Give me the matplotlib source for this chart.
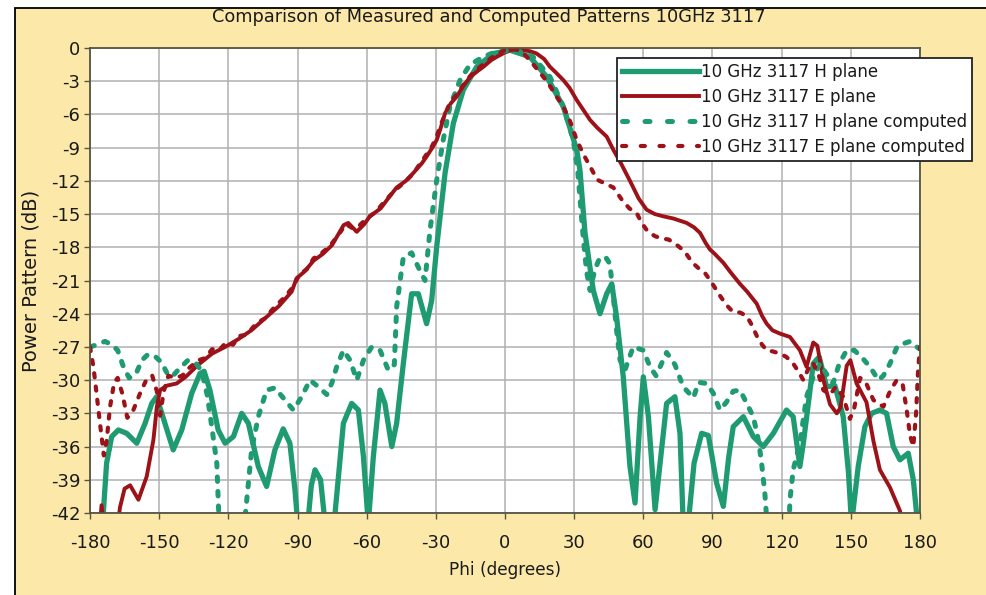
import matplotlib
matplotlib.use("Agg")
import matplotlib.pyplot as plt
from matplotlib.patches import Rectangle

plt.rcParams['font.family'] = ['DejaVu Sans']
plt.rcParams['axes.unicode_minus'] = False

# measured and computed patterns (phi in degrees, dB)
h_meas_phi = [-176, -174.2, -172.8, -170.6, -167.7, -164.1, -159.7, -156.1, -153.2, -151.1, -147.5, -143.9,
              -140.2, -135.9, -132.3, -130.5, -128, -124.4, -121.4, -117.8, -114.2, -111.3, -107, -103.4,
              -99.8, -96.2, -93.3, -91.1, -89.5, -86, -84, -82.4, -80, -77.5, -75, -73.7, -70.1, -66.5,
              -63.6, -61.4, -59.3, -57.1, -54.2, -52.1, -49.1, -47, -44.1, -40.5, -37.6, -34, -31.8, -29.6,
              -26, -22.4, -18.1, -12.3, -5, 2.2, 10.8, 18.1, 25.3, 31.1, 32.5, 34.7, 38.3, 41.2, 44.1,
              46.3, 48.4, 51.3, 54.2, 56.4, 58.6, 60, 62.2, 65.1, 67, 70.1, 73.7, 75.9, 77.3, 79, 82, 85.3,
              88.2, 91.8, 94.7, 97, 99, 103.4, 107.7, 112, 116.4, 122.1, 125, 127.9, 129.4, 132.3, 133.7,
              136.3, 139.5, 143.1, 146.7, 149, 150.3, 153.2, 156.1, 159, 162.6, 165.5, 168.4, 171.3, 174.9,
              177.1, 178.5, 180]
h_meas_db = [-44, -41.9, -37.5, -35.1, -34.5, -34.8, -35.7, -33.9, -32.1, -31.5, -33.9, -36.3,
             -34.5, -31.2, -29.4, -29.2, -30.9, -34.5, -35.7, -35.1, -33.0, -33.9, -37.8, -39.6,
             -36.3, -34.4, -35.7, -39.9, -44, -44, -39.5, -38.1, -39, -44, -44, -42, -33.9, -32.1,
             -32.7, -36.9, -43, -36.9, -30.9, -32.1, -36.0, -33.9, -28.5, -22.2, -22.2, -24.9, -22.8, -17.9,
             -11.3, -6.8, -3.8, -1.7, -0.5, -0.2, -0.8, -2.6, -5.3, -9.2, -11.0, -16.7, -21.9, -24.0, -22.2,
             -21.3, -24.3, -29.7, -37.8, -41.1, -33.3, -29.7, -33.3, -41.7, -38, -32.1, -31.5, -34.8, -43, -44, -37.5, -34.8,
             -35.0, -39.3, -41.4, -37, -34.2, -33.3, -35.1, -36.0, -34.8, -32.7, -33.3, -37.8, -35.7, -30.9, -28.5,
             -27.9, -30.6, -30.5, -33.3, -38.4, -43, -37.8, -34.2, -33.0, -32.7, -33.0, -36.0, -37.2, -36.6,
             -39, -42, -44]

e_meas_phi = [-176, -175, -173.5, -168.5, -167, -165, -162.6, -159, -155.4, -152.5, -151, -149.6, -146.7,
              -142.4, -138.5, -133, -127, -121.4, -115.7, -110, -104, -98, -92.5, -90.4, -87, -83, -79, -75,
              -70, -68, -64.3, -61, -58.6, -54, -50, -47, -43, -39.8, -36, -34, -31.5, -29.6, -28, -26, -23.5,
              -21, -18, -15, -12, -9.4, -6, -3.6, 0, 2.2, 5, 8, 11, 13.7, 17, 19.5, 22, 25.3, 28, 31.1, 34,
              36.9, 40, 44.1, 47, 50, 54.2, 58, 61.4, 65, 68.6, 73, 78.8, 82, 84.6, 87, 88.9, 91, 94.7, 98,
              101.9, 105, 109.2, 111.5, 113.5, 116, 119.3, 123.6, 127.9, 130.8, 132.5, 133.7, 135.5, 138.1,
              141, 143.9, 145.5, 148.2, 149.8, 152.5, 156.8, 159.8, 162.6, 167, 171.3, 173]
e_meas_db = [-44, -41.3, -44, -44, -41.5, -39.8, -39.5, -40.8, -38.7, -35.4, -32.4, -30.9, -30.5,
             -30.3, -29.7, -28.6, -27.6, -27.0, -26.3, -25.5, -24.4, -23.3, -22.0, -20.8, -20.2, -19.2, -18.6, -17.8,
             -16.0, -15.8, -16.6, -15.9, -15.2, -14.5, -13.4, -12.6, -12.0, -11.3, -10.4, -9.8, -9.0, -8.3, -7.3, -5.9, -5.0,
             -4.4, -3.4, -2.6, -2.1, -1.7, -1.1, -0.8, -0.4, -0.2, -0.1, -0.2, -0.3, -0.5, -1.0, -1.7, -2.2, -2.9, -3.6, -4.7, -5.6,
             -6.5, -7.2, -8.0, -9.2, -10.3, -12.0, -13.6, -14.6, -15.0, -15.2, -15.4, -15.8, -16.2, -16.7, -17.6, -18.2, -18.6, -19.4, -20.3,
             -21.3, -22.0, -23.1, -24.2, -24.9, -25.5, -25.8, -26.1, -27.3, -28.8, -27.5, -26.6, -26.9, -30.0,
             -32.2, -33.0, -32.5, -28.7, -28.2, -30.3, -32.0, -35.5, -38.1, -39.7, -41.8, -44]

h_comp_phi = [-180, -177, -173.5, -170.5, -168, -165.5, -163, -160, -157.5, -155, -152, -149, -146, -144,
              -141, -137.5, -134, -131.5, -129, -127, -125, -123.8, -113.5, -112, -109.9, -107, -103.4,
              -99.8, -95.4, -91.8, -88.2, -84.6, -81, -77.3, -75, -73, -70.1, -67.2, -64.3, -61.4, -57.8,
              -54.2, -50.6, -48, -47, -45.5, -44.1, -40.5, -37.6, -34.7, -32.5, -29.6, -26.8, -23.9, -19.5,
              -15.2, -9.4, -3.6, 5, 12.2, 19.5, 25.3, 29.6, 31.5, 32.5, 34, 35.4, 36.9, 39, 41.2, 44, 45.5,
              47, 48.4, 49.9, 52, 55.6, 60, 62.9, 65.5, 70.1, 73.7, 77.3, 81.7, 84, 87.5, 90.4, 93.2, 96, 99,
              101.9, 103.4, 107.7, 110, 111.3, 112.7, 114, 123, 123.6, 125, 127.9, 130.8, 133.7, 136.6, 139,
              142.3, 145, 148.2, 151.5, 155, 158.3, 162, 164.1, 167, 170, 172.8, 175.7, 178.6, 180]
h_comp_db = [-27.0, -26.8, -26.5, -26.8, -27.3, -28.8, -29.8, -29.4, -28.2, -27.7, -27.8, -28.4, -29.6, -29.6,
             -28.9, -28.2, -28.5, -29.2, -31.5, -34.5, -37.5, -44, -44, -40.8, -36.3, -33.3, -30.9,
             -30.7, -31.8, -32.7, -31.5, -30.0, -30.6, -31.3, -30.2, -28.8, -27.3, -28.2, -30.0, -28.2, -27.0,
             -27.3, -29.1, -28.6, -23.4, -21.0, -18.9, -18.5, -19.8, -21.0, -16.4, -11.9, -8.3, -5.3, -2.9,
             -1.5, -0.8, -0.3, -0.2, -0.8, -2.6, -5.3, -8.3, -11.0, -13.5, -17.3, -20.2, -21.9, -20.0, -18.9, -19.0, -19.5,
             -22.5, -25.5, -28.2, -29.1, -27.0, -27.3, -28.8, -29.6, -27.5, -28.6, -30.6, -31.6, -30.2, -30.3, -31.2, -32.7, -32.0, -31.0,
             -30.9, -31.5, -33.3, -35.5, -37.5, -40.2, -44, -44, -40.8, -38.1, -35.7, -31.5, -29.7, -28.5, -29.3,
             -30.3, -28.5, -27.3, -27.3, -28.0, -28.8, -30.0, -29.6, -28.5, -27.0, -26.7, -26.5, -27.0, -27.2]

e_comp_phi = [-180, -178.5, -177, -175.5, -174, -172.8, -171.3, -169.5, -168, -166, -163.8, -161.2, -158.3,
              -155.4, -153, -151, -149.6, -148, -146, -143, -140, -137, -133, -130, -127, -124, -121, -118,
              -115, -112, -108, -104, -100, -96, -92, -89, -86, -83, -80, -76, -72, -69, -66, -63, -60, -56,
              -52, -48, -44, -40, -36, -32, -30, -28, -26, -24, -21, -18, -15, -12, -9, -6, -3, 0, 3, 6, 8.5,
              10.8, 13.5, 16.6, 18.5, 22.4, 25.3, 28.2, 31.1, 34, 36.9, 40, 44, 47, 51, 54, 57.1, 59.3, 62,
              65.1, 68, 71, 75.2, 78, 81.3, 84, 87, 90, 93, 96, 98.7, 102, 104.8, 107, 109.2, 111.5, 113.5,
              116, 119.3, 122, 125, 127.5, 129.4, 131.5, 133.5, 136, 138.1, 141, 143.5, 146.7, 149.6, 151.5,
              154, 156.5, 159.8, 164.1, 167, 169.9, 172.5, 174.3, 175.7, 177.1, 178.3, 179.2, 180]
e_comp_db = [-27.0, -28.8, -31.5, -34.2, -36.8, -35.5, -32.4, -30.2, -29.8, -31.2, -33.4, -32.7, -31.2,
             -29.9, -29.6, -31.0, -33.2, -31.0, -29.6, -29.8, -29.6, -28.9, -28.2, -28.0, -27.2, -27.3, -26.6, -26.8,
             -26.0, -25.9, -24.9, -24.4, -23.4, -22.6, -21.6, -20.4, -20.0, -19.0, -18.6, -17.9, -16.8, -15.9, -16.3, -16.0, -15.4, -14.8,
             -13.8, -12.9, -12.2, -11.4, -10.2, -9.0, -8.2, -7.0, -6.0, -5.0, -4.2, -3.3, -2.5, -1.9, -1.4, -0.9, -0.5, -0.2, -0.1, -0.2, -0.6,
             -1.1, -1.8, -2.6, -3.1, -4.4, -5.3, -6.6, -8.3, -9.6, -10.7, -11.9, -12.3, -12.6, -13.8, -14.5, -14.9, -15.8, -16.6,
             -17.0, -17.2, -17.3, -17.9, -18.4, -19.4, -19.9, -20.4, -21.3, -22.3, -23.2, -23.8, -23.9, -24.2, -25.0, -26.0, -26.8, -27.3,
             -27.4, -27.6, -27.9, -28.5, -29.3, -30.0, -29.0, -28.4, -29.5, -30.9, -31.3, -30.6, -31.5, -33.5, -32.5,
             -29.8, -30.2, -31.8, -32.4, -31.0, -30.0, -30.4, -32.8, -35.0, -36.0, -33.0, -29.0, -27.0]

labels = ['10 GHz 3117 H plane', '10 GHz 3117 E plane',
          '10 GHz 3117 H plane computed', '10 GHz 3117 E plane computed']
x_ticks = list(range(-180, 181, 30))
y_ticks = list(range(-42, 1, 3))

green = '#1f9b72'
red = '#9c1218'
yellow = '#fce9aa'
ink = '#1a1a1a'

fig = plt.figure(figsize=(9.87, 5.95), dpi=100, facecolor='white')
panel = Rectangle((15 / 987, -0.02), 1.0, 1 - 8 / 595 + 0.02, transform=fig.transFigure,
                  facecolor=yellow, edgecolor='black', linewidth=1.3, zorder=-5)
fig.patches.append(panel)

ax = fig.add_axes([90 / 987, 82 / 595, 830 / 987, 465 / 595], zorder=2)
ax.set_facecolor('white')

ax.plot(h_meas_phi, h_meas_db, color=green, lw=3.8, label=labels[0], solid_joinstyle='round')
ax.plot(e_meas_phi, e_meas_db, color=red, lw=2.8, label=labels[1], solid_joinstyle='round')
lh, = ax.plot(h_comp_phi, h_comp_db, color=green, lw=3.6, label=labels[2], dash_capstyle='round')
lh.set_dashes((0.9, 2.0))
le, = ax.plot(e_comp_phi, e_comp_db, color=red, lw=3.0, label=labels[3], dash_capstyle='round')
le.set_dashes((1.0, 2.2))

ax.set_xlim(-180, 180)
ax.set_ylim(-42, 0)
ax.set_xticks(x_ticks)
ax.set_yticks(y_ticks)
ax.grid(True, color='#b0b0b0', lw=1.1)
ax.set_axisbelow(True)
for s in ax.spines.values():
    s.set_color('#555544')
    s.set_linewidth(1.3)
ax.tick_params(axis='both', labelsize=13, colors=ink, length=4, width=1, color='#555544')
ax.tick_params(axis='x', pad=11)
ax.tick_params(axis='y', pad=3)

ax.set_xlabel('Phi (degrees)', fontsize=12.2, color=ink)
ax.xaxis.set_label_coords(0.5, -0.103)
ax.set_ylabel('Power Pattern (dB)', fontsize=14, color=ink)
ax.yaxis.set_label_coords(-0.06, 0.5)

fig.text(489 / 987, 1 - 17 / 595, 'Comparison of Measured and Computed Patterns 10GHz 3117',
         ha='center', va='center', fontsize=12.8, color=ink)

leg = ax.legend(loc='upper left', bbox_to_anchor=(617 / 987, 1 - 58 / 595), bbox_transform=fig.transFigure,
                fontsize=12, frameon=True, fancybox=False, framealpha=1, edgecolor='#222222',
                handlelength=4.6, handletextpad=0.15, labelspacing=0.42, borderpad=0.3, borderaxespad=0)
leg.get_frame().set_linewidth(1.3)
for t in leg.get_texts():
    t.set_color(ink)
hl = leg.get_lines()
hl[2].set_dashes((1.0, 3.5))
hl[3].set_dashes((1.0, 3.5))

fig.savefig('out.png', dpi=100, facecolor=fig.get_facecolor())
